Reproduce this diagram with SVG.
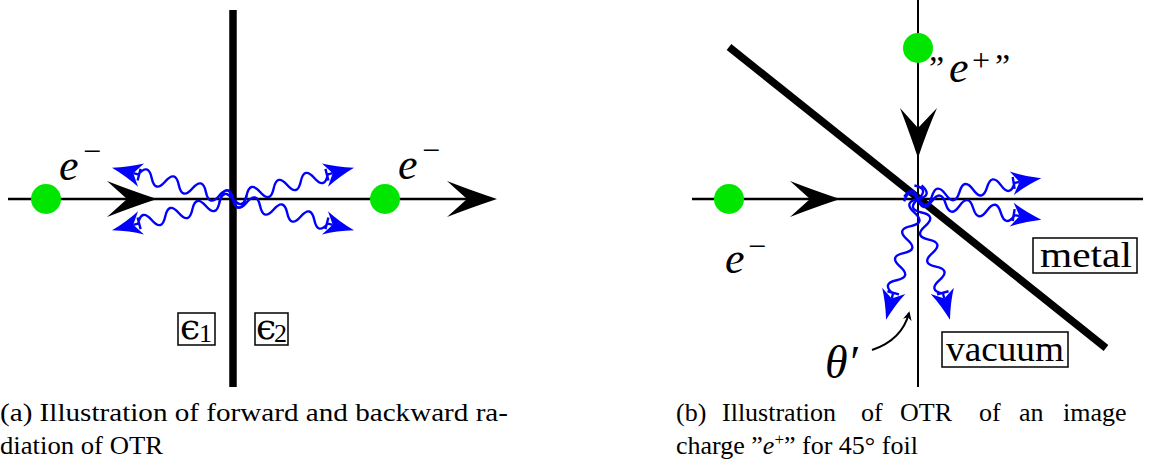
<svg xmlns="http://www.w3.org/2000/svg" xmlns:xlink="http://www.w3.org/1999/xlink" width="1161" height="461" viewBox="0 0 1161 461">
<style>
.ax{stroke:#000;stroke-width:2.5;fill:none}
.thin{stroke:#000;stroke-width:2;fill:none}
.foil{stroke:#000;stroke-width:7.5;fill:none}
.dot{fill:#00e600}
.head{fill:#000}
.wv{stroke:#0000ff;stroke-width:2.4;fill:none;stroke-linejoin:round}
.bh{fill:#0000ff}
.box{fill:#fff;stroke:#000;stroke-width:1.5}
.m{font-family:"Liberation Serif","Times New Roman","DejaVu Serif",serif;font-style:italic;fill:#000}
.r{font-family:"Liberation Serif","Times New Roman","DejaVu Serif",serif;fill:#000}
.eps{font-family:"DejaVu Serif",serif;fill:#000}
.cap{font-family:"Liberation Serif","Times New Roman","DejaVu Serif",serif;font-size:26px;fill:#000}
</style>
<defs>
<g id="wave">
<path class="wv" d="M-14,0 q7,-14 14,0 t14,0 t14,0 t14,0 t14,0 t14,0 t14,0 t14,0 l5,0 M97,-6 L97,6"/>
<path class="bh" d="M125,0 Q108,-5 95,-12 L103,0 L95,12 Q108,5 125,0 Z"/>
</g>
<marker id="tip" viewBox="0 0 10 10" refX="8" refY="5" markerWidth="9" markerHeight="9" orient="auto" markerUnits="userSpaceOnUse">
<path d="M0,0 L10,5 L0,10 L3,5 Z" fill="#000"/>
</marker>
</defs>

<!-- Panel (a) -->
<g id="a-axis">
<line class="ax" x1="8" y1="199" x2="490" y2="199"/>
</g>
<g id="a-foil">
<line class="foil" x1="233" y1="10" x2="233" y2="387"/>
</g>
<g id="a-electron1">
<circle class="dot" cx="46" cy="199" r="15"/>
<text class="m" x="59" y="180" font-size="44">e</text>
<text class="r" x="83" y="162" font-size="32">−</text>
</g>
<g id="a-electron2">
<circle class="dot" cx="385" cy="199" r="15"/>
<text class="m" x="398" y="179" font-size="44">e</text>
<text class="r" x="422" y="161" font-size="32">−</text>
</g>
<g id="a-eps1">
<rect class="box" x="178" y="313" width="37" height="32"/>
<text class="eps" x="180" y="339" font-size="36">ϵ</text>
<text class="r" x="199" y="342" font-size="26">1</text>
</g>
<g id="a-eps2">
<rect class="box" x="255" y="313" width="33" height="32"/>
<text class="eps" x="256" y="339" font-size="36">ϵ</text>
<text class="r" x="274" y="342" font-size="26">2</text>
</g>
<g id="a-connectors">
<path class="head" d="M157,199 Q130,190 107,181 L127,199 L107,217 Q130,208 157,199 Z"/>
<path class="head" d="M497,199 Q470,190 447,181 L467,199 L447,217 Q470,208 497,199 Z"/>
<use xlink:href="#wave" href="#wave" transform="translate(233,199) rotate(-14.5)"/>
<use xlink:href="#wave" href="#wave" transform="translate(233,199) rotate(14.5)"/>
<use xlink:href="#wave" href="#wave" transform="translate(233,199) rotate(194.5)"/>
<use xlink:href="#wave" href="#wave" transform="translate(233,199) rotate(165.5)"/>
</g>
<g id="a-caption">
<text class="cap" x="0" y="421" textLength="508" lengthAdjust="spacingAndGlyphs">(a) Illustration of forward and backward ra-</text>
<text class="cap" x="0" y="454" textLength="163" lengthAdjust="spacingAndGlyphs">diation of OTR</text>
</g>

<!-- Panel (b) -->
<g id="b-axes">
<line class="ax" x1="692" y1="199" x2="1143" y2="199"/>
<line class="thin" x1="918" y1="0" x2="918" y2="387"/>
</g>
<g id="b-foil">
<line class="foil" x1="729" y1="47" x2="1106" y2="348"/>
</g>
<g id="b-electron">
<circle class="dot" cx="729" cy="199" r="15"/>
<text class="m" x="725" y="273" font-size="44">e</text>
<text class="r" x="748" y="257" font-size="32">−</text>
</g>
<g id="b-image-charge">
<circle class="dot" cx="918" cy="48" r="15"/>
<text class="r" x="929" y="79" font-size="34">”</text>
<text class="m" x="949" y="82" font-size="44">e</text>
<text class="r" x="972" y="71" font-size="32">+</text>
<text class="r" x="995" y="77" font-size="34">”</text>
</g>
<g id="b-metal">
<rect class="box" x="1033" y="238" width="104" height="35"/>
<text class="r" x="1040" y="267" font-size="36" textLength="92" lengthAdjust="spacingAndGlyphs">metal</text>
</g>
<g id="b-vacuum">
<rect class="box" x="942" y="332" width="126" height="35"/>
<text class="r" x="946" y="361" font-size="36" textLength="118" lengthAdjust="spacingAndGlyphs">vacuum</text>
</g>
<g id="b-theta">
<text class="m" x="825" y="378" font-size="46">θ′</text>
</g>
<g id="b-connectors">
<path class="head" d="M840,199 Q813,190 790,181 L810,199 L790,217 Q813,208 840,199 Z"/>
<path class="head" d="M918,158 Q909,131 900,108 L918,128 L937,108 Q927,131 918,158 Z"/>
<use xlink:href="#wave" href="#wave" transform="translate(918,199) rotate(-9.5)"/>
<use xlink:href="#wave" href="#wave" transform="translate(918,199) rotate(9.5)"/>
<use xlink:href="#wave" href="#wave" transform="translate(918,199) rotate(104.8)"/>
<use xlink:href="#wave" href="#wave" transform="translate(918,199) rotate(75.2)"/>
<path d="M872,350 Q902,340 909,313" stroke="#000" stroke-width="2" fill="none" marker-end="url(#tip)"/>
</g>
<g id="b-caption">
<text class="cap" y="421"><tspan x="676">(b)</tspan><tspan x="722">Illustration</tspan><tspan x="861">of</tspan><tspan x="900">OTR</tspan><tspan x="979">of</tspan><tspan x="1019">an</tspan><tspan x="1063">image</tspan></text>
<text class="cap" x="676" y="454">charge <tspan>”</tspan><tspan font-style="italic">e</tspan><tspan font-size="17" dy="-9">+</tspan><tspan dy="9">”</tspan> for 45° foil</text>
</g>
</svg>
